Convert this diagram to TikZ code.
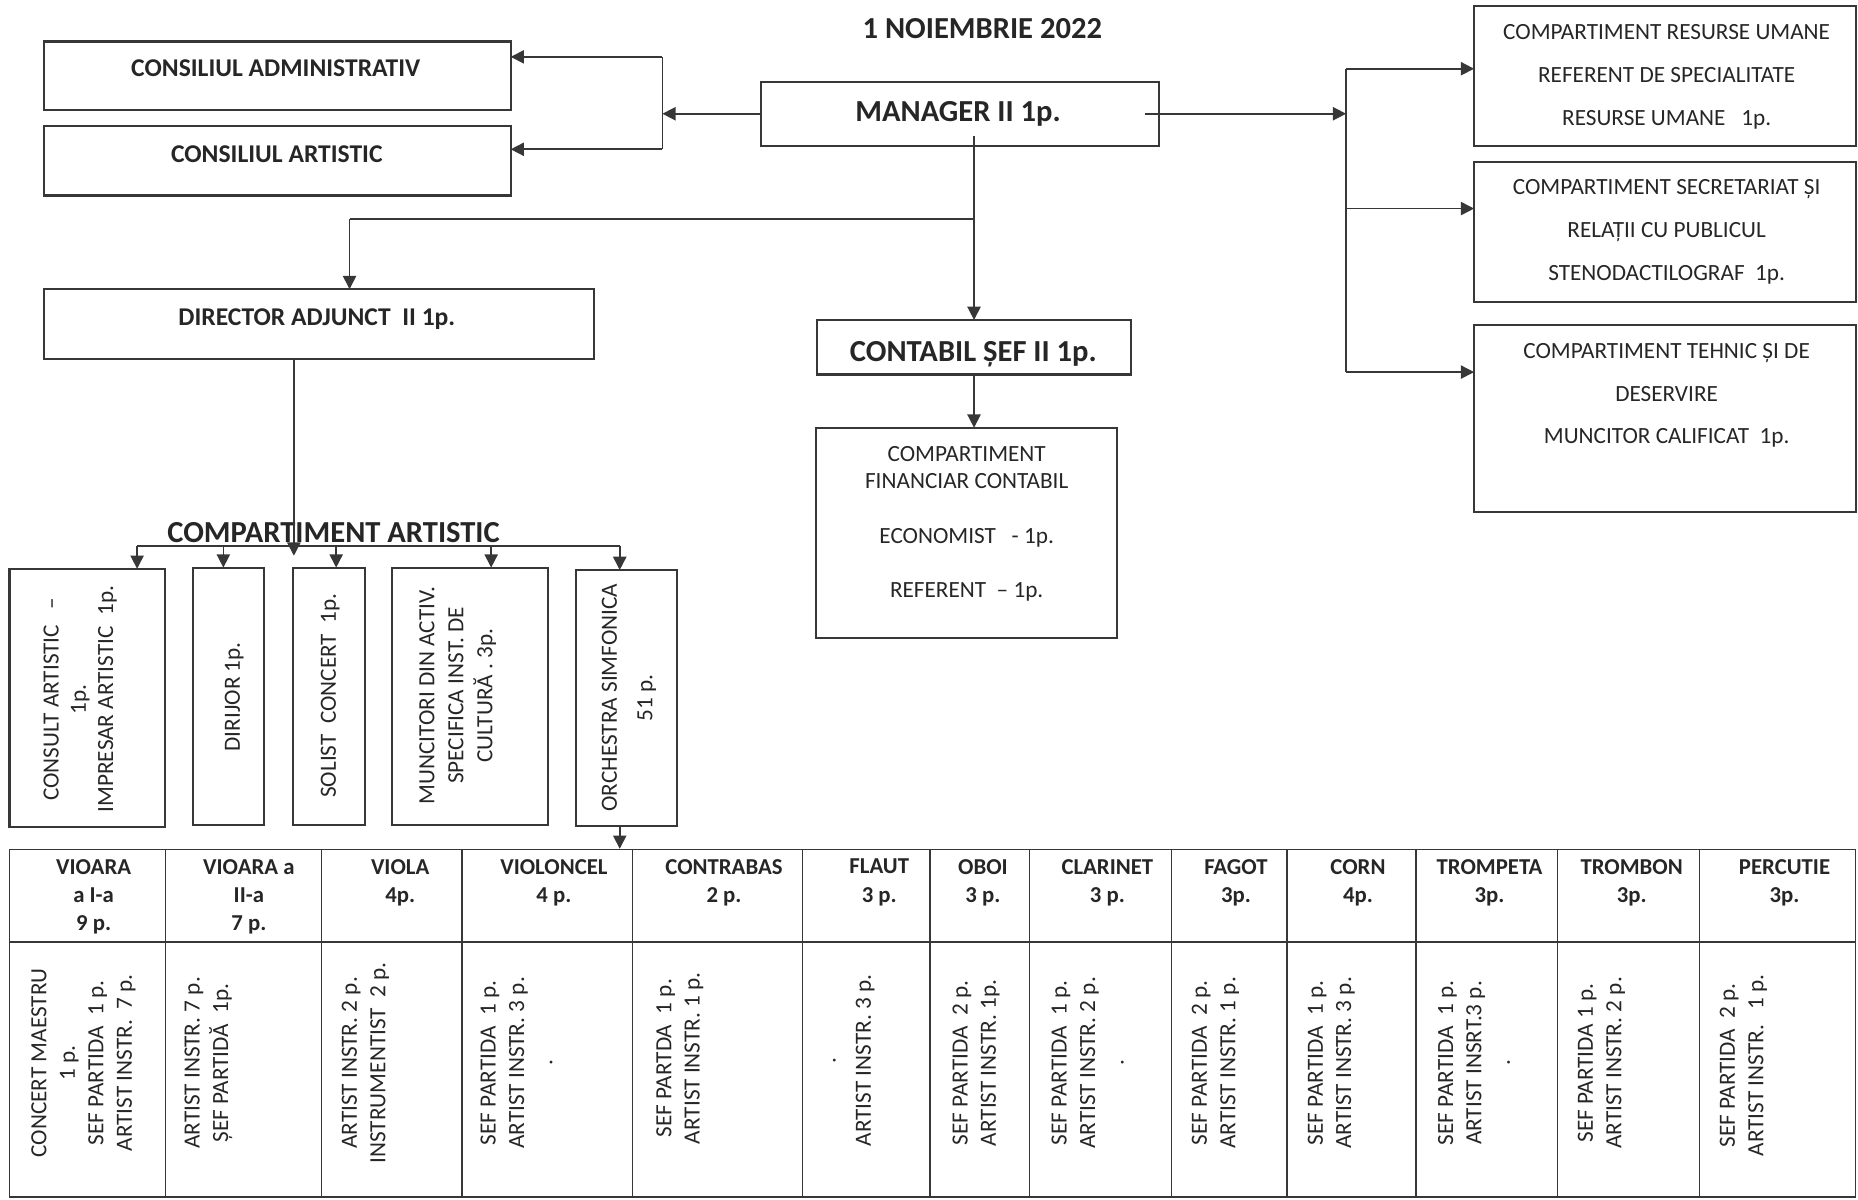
\documentclass[tikz,border=0pt]{standalone}
\usepackage{fontspec}
\setmainfont{Carlito}
\usetikzlibrary{arrows.meta}
\definecolor{ink}{RGB}{38,38,38}
\definecolor{lin}{RGB}{55,55,55}
\begin{document}
\begin{tikzpicture}[x=0.5pt,y=-0.5pt,
  box/.style={draw=lin,line width=0.9pt,inner sep=0pt,outer sep=0pt},
  ln/.style={draw=lin,line width=0.7pt},
  arr/.style={draw=lin,line width=0.7pt,-{Triangle[length=5.6pt,width=5.6pt]}},
  tl/.style={draw=lin,line width=0.6pt},
  tx/.style={text=ink,inner sep=0pt,outer sep=0pt,anchor=north,align=center},
  big/.style={tx,font=\fontsize{12.9}{15}\selectfont\bfseries},
  mid/.style={tx,font=\fontsize{10.8}{13}\selectfont\bfseries},
  reg/.style={tx,font=\fontsize{9.8}{#1}\selectfont},
  reg/.default=12pt,
  hdr/.style={tx,font=\fontsize{9.6}{12}\selectfont\bfseries},
  rot/.style={reg=#1,rotate=90},
  rot/.default=12pt
]
\useasboundingbox (0,0) rectangle (1568,1012);

% ---- title
\node[big] (title) at (829,15.5) {1 NOIEMBRIE 2022};

% ---- boxes top
\node[box,minimum width=197pt,minimum height=29pt] (ca) at (234,64) {};
\node[mid] (catx) at (232.7,50) {CONSILIUL ADMINISTRATIV};
\node[box,minimum width=197pt,minimum height=29.5pt] (car) at (234,135.5) {};
\node[mid] (cartx) at (233.6,123) {CONSILIUL ARTISTIC};

\node[box,minimum width=168pt,minimum height=27pt] (mgr) at (810,96) {};
\node[big] (mgrtx) at (808.5,86) {MANAGER II 1p.};

\node[box,minimum width=232pt,minimum height=29.5pt] (dir) at (269,273.5) {};
\node[mid] (dirtx) at (267.4,260.5) {DIRECTOR ADJUNCT\ \ II 1p.};

\node[box,minimum width=132.75pt,minimum height=23pt] (cont) at (822,293) {};
\node[big] (conttx) at (821.4,288.4) {CONTABIL ȘEF II 1p.};

\node[box,minimum width=126.75pt,minimum height=88.75pt] (fin) at (815.7,449.7) {};
\node[reg=11.5pt] (fintx) at (815.8,376.8) {COMPARTIMENT\\FINANCIAR CONTABIL\\[11.5pt]ECONOMIST\ \ \ - 1p.\\[11.5pt]REFERENT\ \ – 1p.};

% ---- right boxes
\node[box,minimum width=161pt,minimum height=59pt] (r1) at (1405,64) {};
\node[reg=18pt] (r1tx) at (1406.5,20.8) {COMPARTIMENT RESURSE UMANE\\REFERENT DE SPECIALITATE\\RESURSE UMANE\ \ \ 1p.};
\node[box,minimum width=161pt,minimum height=59pt] (r2) at (1405,196) {};
\node[reg=18pt] (r2tx) at (1406.5,151.8) {COMPARTIMENT SECRETARIAT ȘI\\RELAȚII CU PUBLICUL\\STENODACTILOGRAF\ \ 1p.};
\node[box,minimum width=161pt,minimum height=79pt] (r3) at (1405,353) {};
\node[reg=18pt] (r3tx) at (1406.5,289.8) {COMPARTIMENT TEHNIC ȘI DE\\DESERVIRE\\MUNCITOR CALIFICAT\ \ 1p.};

% ---- connectors manager
\coordinate (jL) at (559,96);
\coordinate (jLt) at (559,48);
\coordinate (jLb) at (559,126);
\draw[arr] (mgr.west) -- (jL);
\draw[ln] (jLt) -- (jLb);
\draw[arr] (jLt) -- (jLt -| ca.east);
\draw[arr] (jLb) -- (jLb -| car.east);

\coordinate (mR) at (966,96);
\coordinate (jR) at (1136,96);
\coordinate (jRt) at (1136,58);
\coordinate (jRm) at (1136,176);
\coordinate (jRb) at (1136,314);
\draw[arr] (mR) -- (jR);
\draw[ln] (jRt) -- (jRb);
\draw[arr] (jRt) -- (jRt -| r1.west);
\draw[arr] (jRm) -- (jRm -| r2.west);
\draw[arr] (jRb) -- (jRb -| r3.west);

\coordinate (mD) at (822,115);
\coordinate (jM) at (822,185);
\coordinate (jD) at (295,185);
\draw[arr] (mD) -- (mD |- cont.north);
\draw[ln] (jM) -- (jD);
\draw[arr] (jD) -- (jD |- dir.north);
\draw[arr] (cont.south) -- (cont.south |- fin.north);

% ---- compartiment artistic
\node[big] (arttx) at (281.5,440.5) {COMPARTIMENT ARTISTIC};
\coordinate (dA) at (248,303);
\coordinate (dT) at (248,469);
\draw[arr] (dA) -- (dT);

\node[box,minimum width=65.5pt,minimum height=109pt] (b1) at (73.5,589) {};
\node[box,minimum width=30pt,minimum height=108.5pt] (b2) at (193,587.5) {};
\node[box,minimum width=30.5pt,minimum height=108.5pt] (b3) at (277.5,587.5) {};
\node[box,minimum width=65.8pt,minimum height=108.5pt] (b4) at (396.8,587.5) {};
\node[box,minimum width=42.8pt,minimum height=108pt] (b5) at (528.8,589) {};

\coordinate (k1) at (115.7,461);
\coordinate (k2) at (188.5,461);
\coordinate (k3) at (283.7,461);
\coordinate (k4) at (414.5,461);
\coordinate (k5) at (523,461);
\draw[ln] (k1) -- (k5);
\draw[arr] (k1) -- (k1 |- b1.north);
\draw[arr] (k2) -- (k2 |- b2.north);
\draw[arr] (k3) -- (k3 |- b3.north);
\draw[arr] (k4) -- (k4 |- b4.north);
\draw[arr] (k5) -- (k5 |- b5.north);

\node[rot=11.5pt] (b1tx) at (36.8,590) {CONSULT ARTISTIC\ \ \ –\\1p.\\IMPRESAR ARTISTIC\ \ 1p.};
\node[rot] (b2tx) at (189.8,588) {DIRIJOR 1p.};
\node[rot] (b3tx) at (270.8,587) {SOLIST\ \ CONCERT\ \ 1p.};
\node[rot=12.25pt] (b4tx) at (353.8,587) {MUNCITORI DIN ACTIV.\\SPECIFICA INST. DE\\CULTURĂ . 3p.};
\node[rot=15pt] (b5tx) at (507.8,588.7) {ORCHESTRA SIMFONICA\\51 p.};

% ---- table
\node[draw=lin,line width=0.7pt,inner sep=0pt,minimum width=779pt,minimum height=146.5pt] (tab) at (787,863.5) {};
\draw[arr] (b5.south -| k5) -- (k5 |- tab.north);
\draw[tl] (8,795) -- (1566,795);
\foreach \cx in {139.5,271.5,390,534,677,785,869,988.8,1086,1195,1314.4,1434}
  \draw[tl] (\cx,717) -- (\cx,1010);

\node[hdr] (h1) at (79,725) {VIOARA\\a I-a\\9 p.};
\node[hdr] (h2) at (210,725) {VIOARA a\\II-a\\7 p.};
\node[hdr] (h3) at (337.7,725) {VIOLA\\4p.};
\node[hdr] (h4) at (467.5,725) {VIOLONCEL\\4 p.};
\node[hdr] (h5) at (611,725) {CONTRABAS\\2 p.};
\node[hdr] (h6) at (742,725) {FLAUT\\3 p.};
\node[hdr] (h7) at (829.5,725) {OBOI\\3 p.};
\node[hdr] (h8) at (934.5,725) {CLARINET\\3 p.};
\node[hdr] (h9) at (1043,725) {FAGOT\\3p.};
\node[hdr] (h10) at (1146,725) {CORN\\4p.};
\node[hdr] (h11) at (1257,725) {TROMPETA\\3p.};
\node[hdr] (h12) at (1377,725) {TROMBON\\3p.};
\node[hdr] (h13) at (1506,725) {PERCUTIE\\3p.};

\node[rot] (c1) at (26.5,897) {CONCERT MAESTRU\\1 p.\hspace*{19pt}\\SEF PARTIDA\ \ 1 p.\\ARTIST INSTR.\ \ 7 p.};
\node[rot] (c2) at (155.8,897) {ARTIST INSTR. 7 p.\\ȘEF PARTIDĂ\ \ 1p.};
\node[rot] (c3) at (288.4,897) {ARTIST INSTR. 2 p.\\INSTRUMENTIST\ \ 2 p.};
\node[rot] (c4) at (405.5,897) {SEF PARTIDA\ \ 1 p.\\ARTIST INSTR. 3 p.\\.};
\node[rot] (c5) at (553.8,893) {SEF PARTDA\ \ 1 p.\\ARTIST INSTR. 1 p.};
\node[rot] (c6) at (692.6,895) {\vphantom{A}.\\[2.9pt]ARTIST INSTR. 3 p.};
\node[rot] (c7) at (803.8,897) {SEF PARTIDA\ \ 2 p.\\ARTIST INSTR. 1p.};
\node[rot] (c8) at (887.5,897) {SEF PARTIDA\ \ 1 p.\\ARTIST INSTR. 2 p.\\.};
\node[rot] (c9) at (1005.8,897) {SEF PARTIDA\ \ 2 p.\\ARTIST INSTR. 1 p.};
\node[rot] (c10) at (1103.6,897) {SEF PARTIDA\ \ 1 p.\\ARTIST INSTR. 3 p.};
\node[rot] (c11) at (1213.5,897) {SEF PARTIDA\ \ 1 p.\\ARTIST INSRT.3 p.\\.};
\node[rot] (c12) at (1331.6,897) {SEF PARTIDA 1 p.\\ARTIST INSTR. 2 p.};
\node[rot] (c13) at (1451.3,899) {SEF PARTIDA\ \ 2 p.\\ARTIST INSTR.\ \ \ 1 p.};
\end{tikzpicture}
\end{document}
